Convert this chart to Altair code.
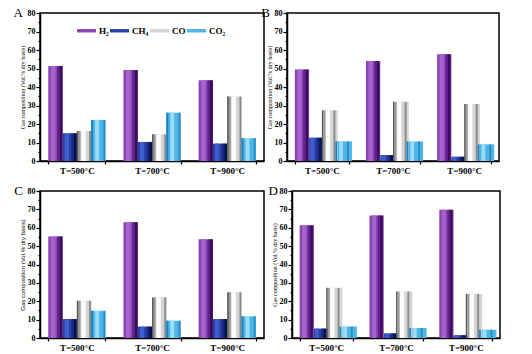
import altair as alt
import pandas as pd

temps = ["T=500°C", "T=700°C", "T=900°C"]
gases = ["H₂", "CH₄", "CO", "CO₂"]

# Panel A
A_h2 = [51.4, 49.2, 43.6]
A_ch4 = [15.0, 10.3, 9.4]
A_co = [16.2, 14.4, 34.8]
A_co2 = [22.2, 26.1, 12.3]
# Panel B
B_h2 = [49.4, 54.0, 57.7]
B_ch4 = [12.6, 3.2, 2.3]
B_co = [27.4, 32.0, 30.8]
B_co2 = [10.6, 10.6, 9.0]
# Panel C
C_h2 = [55.3, 63.0, 53.7]
C_ch4 = [10.3, 6.2, 10.3]
C_co = [20.3, 22.1, 24.9]
C_co2 = [14.8, 9.4, 11.8]
# Panel D
D_h2 = [61.3, 66.7, 69.8]
D_ch4 = [5.1, 2.5, 1.5]
D_co = [27.3, 25.3, 24.0]
D_co2 = [6.2, 5.5, 4.5]

solid_colors = ["#8c44b4", "#2a40a8", "#d4d4d4", "#4cb6e6"]

# shading strips across each bar: (start fraction, end fraction, colour)
shading = [
    [(0.18, 0.5, "#a464cc"), (0.62, 0.8, "#5e2288"), (0.8, 1.0, "#3a0c5c")],
    [(0.15, 0.45, "#3e5ece"), (0.62, 0.8, "#1a2a82"), (0.8, 1.0, "#0a124c")],
    [(0.0, 0.12, "#5a5a5a"), (0.12, 0.26, "#9a9a9a"), (0.3, 0.62, "#fbfbfb"), (0.86, 1.0, "#8a8a8a")],
    [(0.0, 0.14, "#1c84c2"), (0.28, 0.56, "#9ddcf6"), (0.86, 1.0, "#2a8cc4")],
]

P_IN, P_OUT = 0.24, 0.11


def make_df(h2, ch4, co, co2):
    rows = []
    for series, g in zip([h2, ch4, co, co2], gases):
        for t, v in zip(temps, series):
            rows.append({"temp": t, "gas": g, "value": v})
    return pd.DataFrame(rows)


def panel(df, letter, w, h, title_font, legend_x, legend_y, letter_dx):
    step = w / (3 - P_IN + 2 * P_OUT)
    bw = step * (1 - P_IN) / 4
    xenc = alt.X("temp:N", sort=temps,
                 scale=alt.Scale(paddingInner=P_IN, paddingOuter=P_OUT),
                 axis=alt.Axis(title=None, labelAngle=0, tickBand="extent",
                               tickSize=3, labelPadding=2, labelFont="Liberation Serif",
                               labelFontSize=9, labelFontWeight="bold", labelColor="black",
                               domainColor="black", domainWidth=1.5, tickColor="black",
                               tickWidth=1.2))
    yenc = alt.Y("value:Q", stack=None,
                 scale=alt.Scale(domain=[0, 80], nice=False),
                 axis=alt.Axis(title="Gas composition (Vol.% dry basis)",
                               values=list(range(0, 81, 5)),
                               labelExpr="datum.value % 10 === 0 ? datum.label : ''",
                               tickSize={"condition": {"test": "datum.value % 10 === 0", "value": 4}, "value": 2},
                               tickColor="black", tickWidth=1.2,
                               domainColor="black", domainWidth=1.5,
                               labelFont="Liberation Serif", labelFontSize=8,
                               labelFontWeight="bold", labelColor="black", labelPadding=1,
                               titleFont=title_font, titleFontSize=6, titleFontWeight="normal",
                               titleColor="black", titlePadding=2, grid=False))
    base = alt.Chart(df)
    solid = base.mark_bar().encode(
        x=xenc, y=yenc,
        xOffset=alt.XOffset("gas:N", sort=gases,
                            scale=alt.Scale(domain=gases, paddingInner=0, paddingOuter=0)),
        fill=alt.Fill("gas:N", sort=gases,
                      scale=alt.Scale(domain=gases, range=solid_colors),
                      legend=alt.Legend(title=None, orient="none", direction="horizontal",
                                        legendX=legend_x, legendY=legend_y,
                                        symbolType="M-1,-0.18L1,-0.18L1,0.18L-1,0.18Z",
                                        symbolSize=361, symbolStrokeWidth=0,
                                        labelFont="Liberation Serif", labelFontSize=9,
                                        labelFontWeight="bold", labelColor="black",
                                        labelOffset=3, columnPadding=1))
    )
    layers = [solid]
    for gi, (g, strips) in enumerate(zip(gases, shading)):
        sub = base.transform_filter(alt.datum.gas == g)
        for s, e, c in strips:
            off = bw * (gi - 1.5) + bw * ((s + e) / 2 - 0.5)
            layers.append(sub.mark_bar(fill=c, width=bw * (e - s), xOffset=off)
                          .encode(x=xenc, y=yenc))
    lt = alt.Chart(pd.DataFrame({"t": [letter]})).mark_text(
        font="Liberation Serif", fontSize=13, align="right", baseline="middle", color="black"
    ).encode(text="t:N", x=alt.value(letter_dx), y=alt.value(0))
    layers.append(lt)
    return alt.layer(*layers).properties(width=w, height=h)


pA = panel(make_df(A_h2, A_ch4, A_co, A_co2), "A", 224, 148, "Liberation Serif", 37, 8, -17)
pB = panel(make_df(B_h2, B_ch4, B_co, B_co2), "B", 212, 148, "Liberation Serif", 36, 7, -17)
pC = panel(make_df(C_h2, C_ch4, C_co, C_co2), "C", 224, 147, "Liberation Sans", 36, 12, -17)
pD = panel(make_df(D_h2, D_ch4, D_co, D_co2), "D", 208, 147, "Liberation Serif", 34, 5, -14)

chart = alt.vconcat(
    alt.hconcat(pA, pB, spacing=-5),
    alt.hconcat(pC, pD, spacing=2),
    spacing=8,
).properties(
    padding={"left": 12, "top": 6, "right": 0, "bottom": 0},
    background="white",
).configure_view(stroke="black", strokeWidth=1.5)

chart.save("out.html", embed_options={"renderer": "svg", "actions": False})
